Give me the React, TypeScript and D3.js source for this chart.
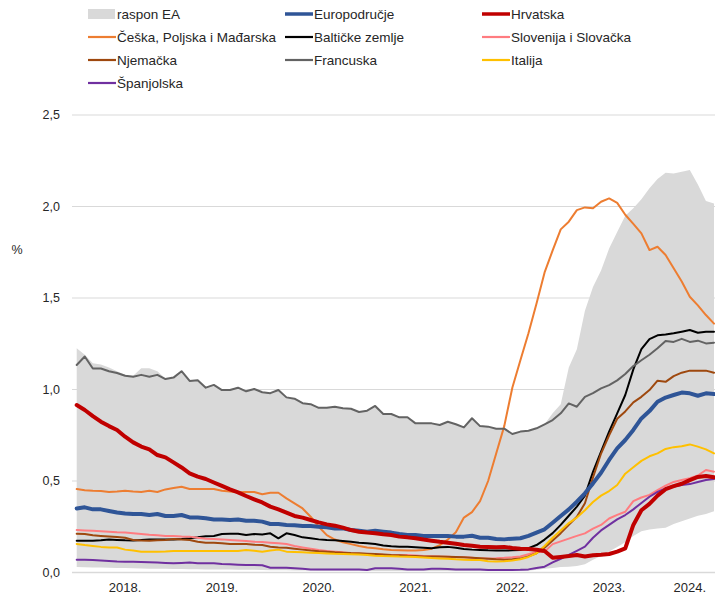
import React from 'react';
import * as d3 from 'd3';

// Monthly data, Jan 2018 – Aug 2024 (80 points)
const yearLabels = ['2018.', '2019.', '2020.', '2021.', '2022.', '2023.', '2024.'];
const yearStartIdx = [0, 12, 24, 36, 48, 60, 72];
const yearMonths = [12, 12, 12, 12, 12, 12, 8];
const yTicks = [0, 0.5, 1, 1.5, 2, 2.5];

const rasponUpper = [
  1.225, 1.19, 1.143, 1.137, 1.12, 1.10, 1.08, 1.075, 1.116, 1.116, 1.10, 1.06,
  1.065, 1.10, 1.047, 1.05, 1.01, 1.025, 0.997, 0.997, 1.01, 0.99, 1.003, 0.985,
  0.98, 0.997, 0.957, 0.95, 0.925, 0.92, 0.90, 0.90, 0.906, 0.897, 0.895, 0.877,
  0.884, 0.91, 0.866, 0.866, 0.848, 0.848, 0.815, 0.815, 0.815, 0.806, 0.824, 0.81,
  0.793, 0.843, 0.80, 0.797, 0.786, 0.786, 0.757, 0.77, 0.775, 0.788, 0.81, 0.87,
  0.92, 1.12, 1.22, 1.43, 1.56, 1.65, 1.77, 1.86, 1.95, 1.99, 2.04, 2.10,
  2.15, 2.185, 2.18, 2.19, 2.199, 2.12, 2.03, 2.017,
];
const rasponLower = [
  0.03, 0.029, 0.028, 0.027, 0.026, 0.025, 0.024, 0.023, 0.022, 0.021, 0.02, 0.02,
  0.019, 0.019, 0.018, 0.018, 0.017, 0.017, 0.016, 0.016, 0.015, 0.015, 0.015, 0.014,
  0.012, 0.012, 0.012, 0.011, 0.011, 0.011, 0.01, 0.01, 0.01, 0.01, 0.01, 0.01,
  0.008, 0.008, 0.008, 0.008, 0.008, 0.008, 0.008, 0.008, 0.008, 0.008, 0.008, 0.008,
  0.008, 0.008, 0.008, 0.008, 0.008, 0.008, 0.008, 0.008, 0.01, 0.015, 0.02, 0.025,
  0.03, 0.032, 0.035, 0.045, 0.07, 0.09, 0.115, 0.14, 0.165, 0.2, 0.225, 0.235,
  0.24, 0.245, 0.265, 0.28, 0.295, 0.31, 0.32, 0.335,
];
const europodrucje = [
  0.35, 0.356, 0.345, 0.345, 0.336, 0.328, 0.323, 0.32, 0.32, 0.314, 0.32, 0.309,
  0.309, 0.314, 0.301, 0.301, 0.296, 0.29, 0.29, 0.287, 0.29, 0.283, 0.283, 0.278,
  0.265, 0.265, 0.26, 0.258, 0.254, 0.254, 0.25, 0.247, 0.241, 0.241, 0.232, 0.228,
  0.223, 0.228, 0.223, 0.218, 0.21, 0.205, 0.205, 0.20, 0.20, 0.20, 0.20, 0.196,
  0.196, 0.201, 0.19, 0.19, 0.183, 0.181, 0.185, 0.187, 0.20, 0.218, 0.236, 0.272,
  0.309, 0.345, 0.387, 0.433, 0.487, 0.545, 0.615, 0.678, 0.724, 0.779, 0.842, 0.882,
  0.933, 0.956, 0.97, 0.983, 0.979, 0.966, 0.979, 0.975,
];
const hrvatska = [
  0.915, 0.888, 0.855, 0.824, 0.80, 0.779, 0.742, 0.711, 0.688, 0.673, 0.642, 0.629,
  0.602, 0.574, 0.542, 0.524, 0.511, 0.492, 0.473, 0.454, 0.438, 0.418, 0.40, 0.383,
  0.36, 0.345, 0.327, 0.309, 0.30, 0.287, 0.274, 0.263, 0.256, 0.245, 0.232, 0.223,
  0.218, 0.214, 0.209, 0.205, 0.196, 0.192, 0.187, 0.18, 0.174, 0.168, 0.163, 0.157,
  0.15, 0.146, 0.141, 0.14, 0.138, 0.14, 0.134, 0.13, 0.128, 0.124, 0.118, 0.08,
  0.085, 0.09, 0.096, 0.087, 0.094, 0.097, 0.101, 0.114, 0.132, 0.26, 0.34, 0.375,
  0.42, 0.455, 0.472, 0.485, 0.505, 0.522, 0.527, 0.52,
];
const ceskaPoljskaMadarska = [
  0.456, 0.45, 0.447, 0.445, 0.44, 0.443, 0.447, 0.443, 0.44, 0.447, 0.44, 0.454,
  0.462, 0.469, 0.456, 0.456, 0.456, 0.456, 0.447, 0.442, 0.438, 0.44, 0.44, 0.428,
  0.436, 0.436, 0.405, 0.378, 0.35, 0.305, 0.25, 0.204, 0.18, 0.165, 0.155, 0.145,
  0.137, 0.132, 0.127, 0.123, 0.122, 0.12, 0.12, 0.123, 0.13, 0.15, 0.18, 0.22,
  0.30, 0.33, 0.39, 0.50, 0.65, 0.80, 1.01, 1.16, 1.307, 1.47, 1.64, 1.76,
  1.875, 1.917, 1.98, 1.995, 1.99, 2.026, 2.044, 2.02, 1.955, 1.905, 1.853, 1.762,
  1.78, 1.735, 1.662, 1.59, 1.507, 1.46, 1.407, 1.36,
];
const baltickeZemlje = [
  0.174, 0.174, 0.174, 0.176, 0.18, 0.178, 0.176, 0.175, 0.178, 0.18, 0.181, 0.181,
  0.181, 0.183, 0.187, 0.192, 0.198, 0.20, 0.21, 0.212, 0.212, 0.205, 0.21, 0.208,
  0.214, 0.187, 0.214, 0.205, 0.192, 0.187, 0.181, 0.178, 0.176, 0.172, 0.168, 0.163,
  0.16, 0.156, 0.148, 0.143, 0.141, 0.141, 0.138, 0.135, 0.132, 0.138, 0.14, 0.135,
  0.128, 0.125, 0.123, 0.121, 0.12, 0.12, 0.121, 0.123, 0.133, 0.15, 0.18, 0.215,
  0.26, 0.31, 0.36, 0.42, 0.55, 0.66, 0.77, 0.87, 0.97, 1.11, 1.22, 1.275,
  1.296, 1.30, 1.307, 1.316, 1.325, 1.31, 1.316, 1.316,
];
const slovenijaSlovacka = [
  0.232, 0.23, 0.228, 0.226, 0.223, 0.22, 0.218, 0.214, 0.21, 0.206, 0.203, 0.2,
  0.199, 0.197, 0.196, 0.19, 0.185, 0.183, 0.181, 0.178, 0.175, 0.172, 0.168, 0.166,
  0.163, 0.16, 0.156, 0.145, 0.137, 0.13, 0.123, 0.118, 0.114, 0.11, 0.105, 0.103,
  0.101, 0.099, 0.097, 0.096, 0.096, 0.095, 0.093, 0.09, 0.089, 0.087, 0.086, 0.084,
  0.083, 0.08, 0.077, 0.077, 0.078, 0.08, 0.083, 0.087, 0.10, 0.112, 0.114, 0.155,
  0.17, 0.185, 0.20, 0.214, 0.24, 0.26, 0.295, 0.315, 0.332, 0.39, 0.41, 0.424,
  0.45, 0.475, 0.495, 0.505, 0.515, 0.53, 0.56, 0.551,
];
const njemacka = [
  0.212, 0.21, 0.203, 0.2, 0.197, 0.194, 0.19, 0.178, 0.175, 0.174, 0.176, 0.178,
  0.183, 0.18, 0.178, 0.168, 0.163, 0.162, 0.16, 0.156, 0.156, 0.156, 0.152, 0.15,
  0.141, 0.137, 0.135, 0.13, 0.125, 0.12, 0.116, 0.113, 0.11, 0.108, 0.106, 0.105,
  0.103, 0.101, 0.099, 0.096, 0.094, 0.091, 0.09, 0.088, 0.087, 0.087, 0.086, 0.085,
  0.083, 0.081, 0.078, 0.075, 0.072, 0.07, 0.072, 0.076, 0.088, 0.105, 0.135, 0.175,
  0.215, 0.26, 0.305, 0.378, 0.52, 0.65, 0.75, 0.84, 0.88, 0.93, 0.96, 0.997,
  1.048, 1.042, 1.073, 1.092, 1.103, 1.103, 1.103, 1.092,
];
const francuska = [
  1.134, 1.18, 1.115, 1.115, 1.10, 1.09, 1.075, 1.07, 1.08, 1.07, 1.08, 1.057,
  1.065, 1.10, 1.047, 1.05, 1.01, 1.025, 0.997, 0.997, 1.01, 0.99, 1.003, 0.985,
  0.98, 0.997, 0.957, 0.95, 0.925, 0.92, 0.90, 0.90, 0.906, 0.897, 0.895, 0.877,
  0.884, 0.91, 0.866, 0.866, 0.848, 0.848, 0.815, 0.815, 0.815, 0.806, 0.824, 0.81,
  0.793, 0.843, 0.80, 0.797, 0.786, 0.786, 0.757, 0.77, 0.775, 0.788, 0.81, 0.833,
  0.87, 0.924, 0.906, 0.96, 0.98, 1.006, 1.024, 1.05, 1.085, 1.128, 1.16, 1.19,
  1.225, 1.265, 1.26, 1.277, 1.26, 1.267, 1.252, 1.256,
];
const italija = [
  0.156, 0.15, 0.145, 0.14, 0.137, 0.137, 0.125, 0.12, 0.114, 0.114, 0.114, 0.115,
  0.117, 0.117, 0.117, 0.117, 0.117, 0.117, 0.117, 0.117, 0.117, 0.123, 0.119, 0.114,
  0.12, 0.125, 0.114, 0.112, 0.11, 0.108, 0.106, 0.104, 0.102, 0.101, 0.1, 0.098,
  0.095, 0.092, 0.09, 0.089, 0.087, 0.086, 0.085, 0.082, 0.079, 0.077, 0.075, 0.072,
  0.07, 0.068, 0.068, 0.062, 0.06, 0.062, 0.065, 0.072, 0.085, 0.105, 0.145, 0.19,
  0.23, 0.27, 0.30, 0.34, 0.385, 0.42, 0.445, 0.478, 0.54, 0.575, 0.61, 0.635,
  0.651, 0.675, 0.685, 0.69, 0.70, 0.688, 0.673, 0.651,
];
const spanjolska = [
  0.07, 0.07, 0.068, 0.066, 0.063, 0.06, 0.059, 0.059, 0.058, 0.056, 0.054, 0.052,
  0.05, 0.052, 0.054, 0.05, 0.05, 0.05, 0.046, 0.045, 0.043, 0.041, 0.041, 0.04,
  0.026, 0.026, 0.026, 0.023, 0.02, 0.017, 0.017, 0.017, 0.017, 0.017, 0.017, 0.016,
  0.014, 0.023, 0.023, 0.023, 0.02, 0.017, 0.017, 0.017, 0.02, 0.021, 0.019, 0.017,
  0.017, 0.017, 0.016, 0.014, 0.014, 0.014, 0.014, 0.015, 0.017, 0.025, 0.032, 0.055,
  0.075, 0.096, 0.118, 0.141, 0.19, 0.23, 0.26, 0.29, 0.314, 0.345, 0.38, 0.414,
  0.44, 0.46, 0.47, 0.478, 0.483, 0.495, 0.505, 0.511,
];

type Series = { name: string; data: number[]; color: string; width: number };

const seriesList: Series[] = [
  { name: 'Europodručje', data: europodrucje, color: '#2f5597', width: 4 },
  { name: 'Hrvatska', data: hrvatska, color: '#c00000', width: 4 },
  { name: 'Češka, Poljska i Mađarska', data: ceskaPoljskaMadarska, color: '#ed7d31', width: 2 },
  { name: 'Baltičke zemlje', data: baltickeZemlje, color: '#000000', width: 2 },
  { name: 'Slovenija i Slovačka', data: slovenijaSlovacka, color: '#ff7c80', width: 2 },
  { name: 'Njemačka', data: njemacka, color: '#9e480e', width: 2 },
  { name: 'Francuska', data: francuska, color: '#636363', width: 2 },
  { name: 'Italija', data: italija, color: '#ffc000', width: 2 },
  { name: 'Španjolska', data: spanjolska, color: '#7030a0', width: 2 },
];

const W = 715;
const H = 595;
const FONT = '"Liberation Sans", Arial, sans-serif';

export default function App() {
  const n = francuska.length;
  const x = d3.scaleLinear().domain([0, n - 1]).range([76.7, 714]);
  const step = x(1) - x(0);
  const y = d3.scaleLinear().domain([0, 2.5]).range([572.5, 115]);
  const plotLeft = 72;
  const plotRight = 715;

  const area = d3
    .area<number>()
    .x((_, i) => x(i))
    .y0((_, i) => y(rasponLower[i]))
    .y1((d) => y(d));

  const line = d3
    .line<number>()
    .x((_, i) => x(i))
    .y((d) => y(d));

  const drawOrder = [2, 3, 4, 5, 6, 7, 8, 0, 1];

  const legendCols = [88, 285, 482];
  const legendRows = [14, 37, 60, 83];
  const legendItems: { name: string; color: string; width: number; band?: boolean }[] = [
    { name: 'raspon EA', color: '#d9d9d9', width: 0, band: true },
    ...seriesList.map((s) => ({ name: s.name, color: s.color, width: s.width })),
  ];

  return (
    <svg
      width={W}
      height={H}
      style={{ position: 'absolute', left: 0, top: 0, background: '#fff' }}
      fontFamily={FONT}
    >
      {/* gridlines */}
      {yTicks.map((t) => (
        <line
          key={t}
          x1={plotLeft}
          x2={plotRight}
          y1={y(t)}
          y2={y(t)}
          stroke="#d9d9d9"
          strokeWidth={t === 0 ? 1.5 : 1}
        />
      ))}
      {/* band */}
      <path d={area(rasponUpper) || ''} fill="#d9d9d9" stroke="none" />
      {/* lines */}
      {drawOrder.map((k) => {
        const s = seriesList[k];
        return (
          <path
            key={s.name}
            d={line(s.data) || ''}
            fill="none"
            stroke={s.color}
            strokeWidth={s.width}
            strokeLinejoin="round"
            strokeLinecap="round"
          />
        );
      })}
      {/* y axis labels */}
      {yTicks.map((t) => (
        <text
          key={t}
          x={60}
          y={y(t)}
          dy="0.35em"
          textAnchor="end"
          fontSize={12.5}
          fill="#262626"
        >
          {d3.format('.1f')(t).replace('.', ',')}
        </text>
      ))}
      <text x={17} y={250} dy="0.35em" textAnchor="middle" fontSize={12.5} fill="#262626">
        %
      </text>
      {/* x axis labels */}
      {yearLabels.map((lab, k) => (
        <text
          key={lab}
          x={x(yearStartIdx[k]) + (yearMonths[k] / 2) * step}
          y={592}
          textAnchor="middle"
          fontSize={13}
          fill="#262626"
        >
          {lab}
        </text>
      ))}
      {/* legend */}
      {legendItems.map((it, k) => {
        const col = k % 3;
        const row = Math.floor(k / 3);
        const lx = legendCols[col];
        const ly = legendRows[row];
        return (
          <g key={it.name}>
            {it.band ? (
              <rect x={lx} y={ly - 5} width={27} height={10} fill={it.color} />
            ) : (
              <line
                x1={lx}
                x2={lx + 28}
                y1={ly}
                y2={ly}
                stroke={it.color}
                strokeWidth={it.width === 4 ? 3.5 : 2.2}
              />
            )}
            <text x={lx + 29} y={ly} dy="0.35em" fontSize={13.5} fill="#262626">
              {it.name}
            </text>
          </g>
        );
      })}
    </svg>
  );
}
